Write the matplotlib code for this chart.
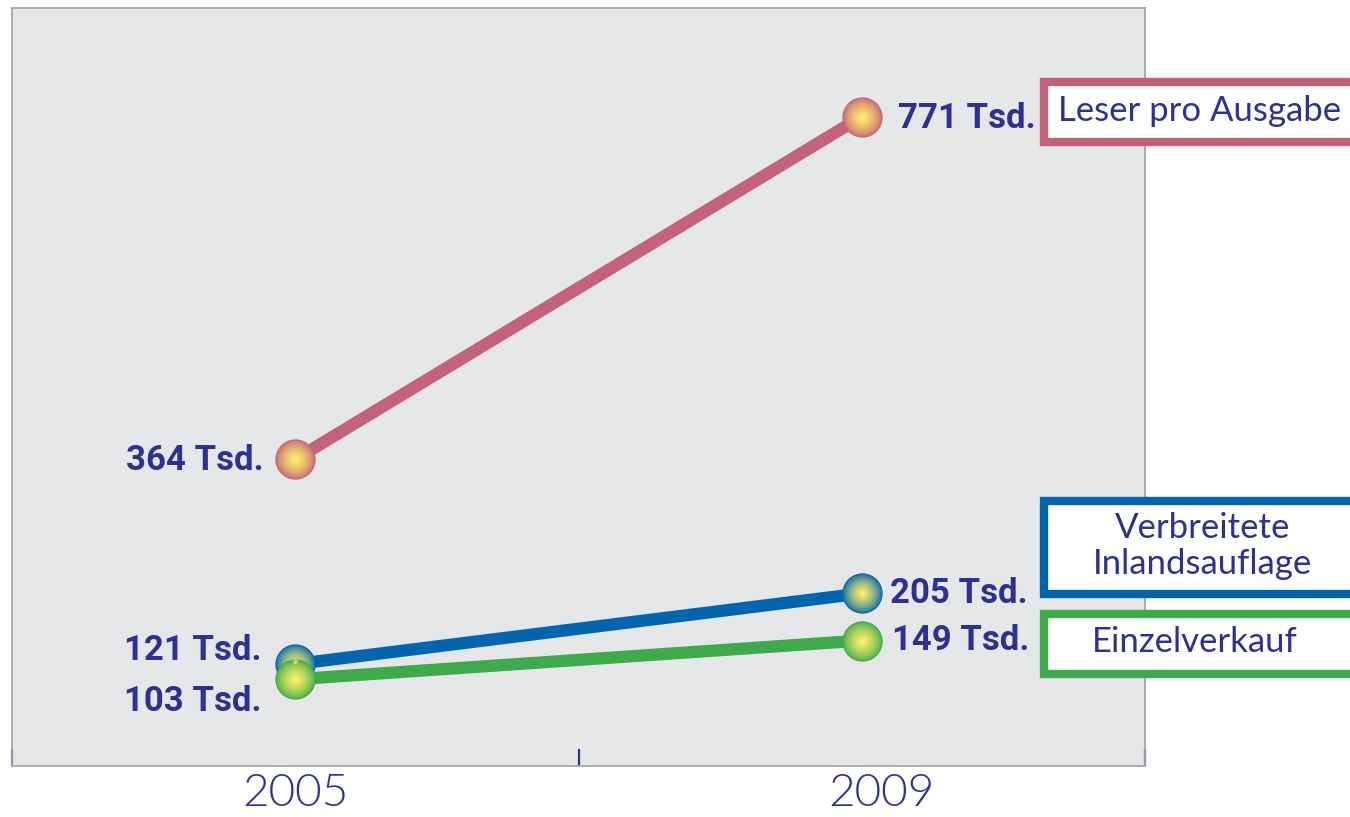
import numpy as np
import matplotlib
matplotlib.use("Agg")
import matplotlib.pyplot as plt
from matplotlib.colors import to_rgb
from matplotlib.patches import Rectangle
from matplotlib.transforms import ScaledTranslation

# Data
years = ["2005", "2009"]
leser = [364, 771]
inland = [121, 205]
einzel = [103, 149]

series_names = ["Leser pro Ausgabe", "Verbreitete\nInlandsauflage", "Einzelverkauf"]
series_values = [leser, inland, einzel]
series_colors = ["#C4617B", "#0064AF", "#3EAA4B"]

NAVY = "#2E3192"
BG = "#E6E7E9"

fig = plt.figure(figsize=(13.5, 8.17), dpi=100)
ax = fig.add_axes([12 / 1350, 51 / 817, (1145 - 12) / 1350, (766 - 8) / 817])
ax.set_facecolor(BG)

x = np.arange(len(years))
yellow = np.array(to_rgb("#FFF06A"))


def gradient_markers(xs, ys, color, size=29, z=5):
    edge = np.array(to_rgb(color))
    steps = 26
    for i in range(steps):
        t = i / (steps - 1)
        ms = size * (1 - 0.93 * t)
        mix = t ** 0.7
        c = edge * (1 - mix) + yellow * mix
        ax.plot(xs, ys, "o", ms=ms, color=c, mec="none", zorder=z + i * 0.01)


# draw lines; pink, blue, then green above blue
order = [(0, 3), (1, 3.2), (2, 3.4)]
for idx, z in order:
    vals = series_values[idx]
    ax.plot(x, vals, color=series_colors[idx], lw=8.8, solid_capstyle="round", zorder=z)
    gradient_markers(x, vals, series_colors[idx], z=z + 0.05)

lab_kw = dict(color=NAVY, fontsize=25, fontweight="bold", family="Roboto", va="center")

# value labels
ax.annotate(f"{leser[0]} Tsd.", (x[0], leser[0]), xytext=(-23, -1), textcoords="offset points", ha="right", **lab_kw)
ax.annotate(f"{leser[1]} Tsd.", (x[1], leser[1]), xytext=(26, -1), textcoords="offset points", ha="left", **lab_kw)
ax.annotate(f"{inland[0]} Tsd.", (x[0], inland[0]), xytext=(-24, 10), textcoords="offset points", ha="right", **lab_kw)
ax.annotate(f"{inland[1]} Tsd.", (x[1], inland[1]), xytext=(20, 0), textcoords="offset points", ha="left", **lab_kw)
ax.annotate(f"{einzel[0]} Tsd.", (x[0], einzel[0]), xytext=(-24, -16), textcoords="offset points", ha="right", **lab_kw)
ax.annotate(f"{einzel[1]} Tsd.", (x[1], einzel[1]), xytext=(22, 0), textcoords="offset points", ha="left", **lab_kw)

ax.set_xlim(-0.5, 1.5)
ax.set_ylim(0, 900)
ax.set_yticks([])

# category boundaries as inward ticks, year names centred below the points
ax.set_xticks([-0.5, 0.5, 1.5])
ax.set_xticklabels([])
ax.set_xticks(x, minor=True)
ax.set_xticklabels(years, minor=True)
ax.tick_params(axis="x", which="major", direction="in", length=12, width=1.6, color=NAVY)
ax.tick_params(axis="x", which="minor", length=0, pad=5, labelsize=33, labelcolor=NAVY)
minor_labels = ax.get_xticklabels(minor=True)
for lbl in minor_labels:
    lbl.set_family("Lato")
    lbl.set_fontweight(300)
# the later year sits a little to the right of its point
minor_labels[-1].set_transform(minor_labels[-1].get_transform()
                               + ScaledTranslation(0.2, 0, fig.dpi_scale_trans))

for s in ax.spines.values():
    s.set_color("#A5A6A8")
    s.set_linewidth(1.3)

# legend boxes on the right
W, H = 1350, 817
box_specs = [
    (0, 82, 142, (1058, 111, "left")),
    (1, 501, 594, (1203, 546, "center")),
    (2, 614, 674, (1195, 642, "center")),
]
for idx, top, bottom, (tx, ty, ha) in box_specs:
    rect = Rectangle((1044 / W, 1 - bottom / H), 400 / W, (bottom - top) / H,
                     transform=fig.transFigure, facecolor="white",
                     edgecolor=series_colors[idx], linewidth=6, zorder=10, clip_on=False)
    fig.add_artist(rect)
    fig.text(tx / W, 1 - ty / H, series_names[idx], ha=ha, va="center",
             color=NAVY, fontsize=25, family="Lato", linespacing=1.12, zorder=11)

fig.savefig("out.png", dpi=100)
